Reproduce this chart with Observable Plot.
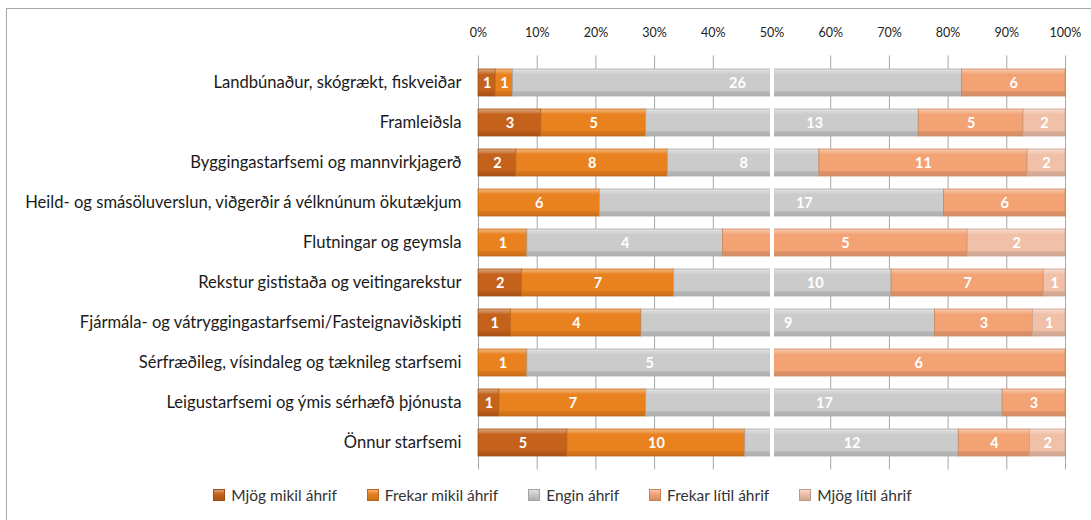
<!DOCTYPE html>
<html><head><meta charset="utf-8">
<script src="https://cdn.jsdelivr.net/npm/d3@7"></script>
<script src="https://cdn.jsdelivr.net/npm/@observablehq/plot@0.6"></script>
<style>
body{margin:0;background:#fff;}
#wrap{position:relative;width:1091px;height:520px;overflow:hidden;font-family:Lato,"Open Sans",sans-serif;}
#frame{position:absolute;left:6px;top:8px;width:1200px;height:700px;border:1.5px solid #a6a6a6;box-sizing:border-box;pointer-events:none;}
#chart{position:absolute;left:0;top:0;}
#legend{position:absolute;left:0;width:1125px;top:486px;display:flex;justify-content:center;gap:30px;font-size:15.5px;color:#333;}
#legend .it{display:flex;align-items:center;gap:6px;white-space:nowrap;}
#legend .sw{width:10px;height:10px;display:inline-block;}
</style>
</head><body>
<div id="wrap"><div id="chart"></div><div id="legend"></div><div id="frame"></div></div>
<script>
const categories = [
  "Landbúnaður, skógrækt, fiskveiðar",
  "Framleiðsla",
  "Byggingastarfsemi og mannvirkjagerð",
  "Heild- og smásöluverslun, viðgerðir á vélknúnum ökutækjum",
  "Flutningar og geymsla",
  "Rekstur gististaða og veitingarekstur",
  "Fjármála- og vátryggingastarfsemi/Fasteignaviðskipti",
  "Sérfræðileg, vísindaleg og tæknileg starfsemi",
  "Leigustarfsemi og ýmis sérhæfð þjónusta",
  "Önnur starfsemi"
];
const seriesNames = ["Mjög mikil áhrif","Frekar mikil áhrif","Engin áhrif","Frekar lítil áhrif","Mjög lítil áhrif"];
const mjogMikil   = [1, 3, 2, 0, 0, 2, 1, 0, 1, 5];
const frekarMikil = [1, 5, 8, 6, 1, 7, 4, 1, 7, 10];
const engin       = [26,13, 8,17, 4,10, 9, 5,17, 12];
const frekarLitil = [6, 5,11, 6, 5, 7, 3, 6, 3, 4];
const mjogLitil   = [0, 2, 2, 0, 2, 1, 1, 0, 0, 2];
const seriesValues = [mjogMikil, frekarMikil, engin, frekarLitil, mjogLitil];
const colors = ["#c4621b","#e9811f","#cbcbcb","#f3a273","#f0c0a9"];
const xTicks = [0,0.1,0.2,0.3,0.4,0.5,0.6,0.7,0.8,0.9,1];

// stacked, normalized rows (derived from the arrays above)
const rows = [];
categories.forEach((cat, i) => {
  const total = d3.sum(seriesValues, s => s[i]);
  let acc = 0;
  seriesValues.forEach((s, k) => {
    const v = s[i];
    const x1 = acc / total; acc += v; const x2 = acc / total;
    let mid = (x1 + x2) / 2;
    if (Math.abs(mid - 0.5) < 0.025) mid += 0.055; // keep label clear of the 50% gap
    if (v > 0) rows.push({cat, series: k, v, x1, x2, mid});
  });
});

const marks = [
  Plot.ruleX(xTicks, {stroke: "#a6a6a6", strokeWidth: 1})
];
seriesValues.forEach((s, k) => {
  marks.push(Plot.barX(rows.filter(r => r.series === k), {
    x1: "x1", x2: "x2", y: "cat", fill: `url(#grad${k})`,
    stroke: d3.color(colors[k]).darker(0.5).formatHex(), strokeWidth: 0.8
  }));
});
marks.push(Plot.ruleX([0.5], {stroke: "white", strokeWidth: 4}));
marks.push(Plot.text(rows, {x: "mid", y: "cat", text: d => String(d.v), fill: "white",
  fontWeight: "bold", fontSize: 14.5, fontFamily: "Lato, sans-serif"}));
marks.push(Plot.axisX({anchor: "top", ticks: xTicks, tickFormat: d => Math.round(d*100) + "%",
  tickSize: 0, tickPadding: 19, fontSize: 12.5, fill: "#222"}));
marks.push(Plot.axisY({tickSize: 0, tickPadding: 17, fontSize: 16.6, fill: "#1a1a1a", label: null}));

const chart = Plot.plot({
  width: 1091, height: 480,
  marginLeft: 478, marginRight: 26, marginTop: 55.5, marginBottom: 10.5,
  style: {fontFamily: "Lato, sans-serif", background: "transparent", overflow: "visible"},
  x: {domain: [0, 1], label: null, axis: null},
  y: {domain: categories, padding: 0.32, label: null, axis: null},
  marks
});

// gradient defs for the bevelled look
const svg = d3.select(chart);
const defs = svg.insert("defs", ":first-child");
colors.forEach((c, k) => {
  const g = defs.append("linearGradient").attr("id", `grad${k}`)
    .attr("x1", 0).attr("y1", 0).attr("x2", 0).attr("y2", 1);
  const light = d3.interpolateRgb(c, "#ffffff")(0.45);
  const dark = d3.color(c).darker(0.35).formatHex();
  [[0, light],[0.14, d3.interpolateRgb(c, "#ffffff")(0.15)],[0.2, c],[0.78, c],[0.88, dark],[1, dark]]
    .forEach(([o, col]) => g.append("stop").attr("offset", o).attr("stop-color", col));
});
document.getElementById("chart").appendChild(chart);

// legend
const legend = d3.select("#legend");
seriesNames.forEach((name, k) => {
  const it = legend.append("div").attr("class", "it");
  it.append("span").attr("class", "sw")
    .style("background", `linear-gradient(${d3.interpolateRgb(colors[k], "#fff")(0.4)}, ${colors[k]} 40%, ${d3.color(colors[k]).darker(0.4)})`)
    .style("border", `1px solid ${d3.color(colors[k]).darker(0.6)}`);
  it.append("span").text(name);
});
</script>
</body></html>
